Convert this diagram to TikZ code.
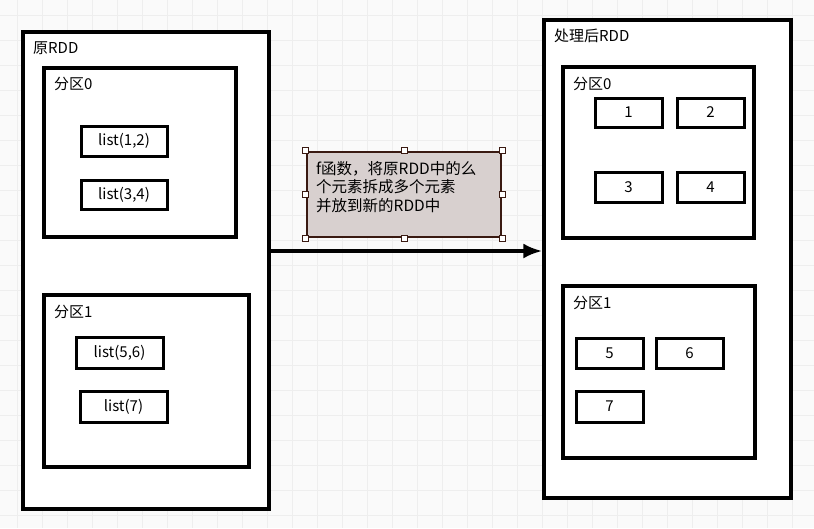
\documentclass[tikz,border=0pt]{standalone}
\usepackage{fontspec}
\setmainfont{Noto Sans CJK SC}
\usepackage{tikz}
\usetikzlibrary{arrows.meta}

\definecolor{bgpaper}{HTML}{FAFAFA}
\definecolor{gridgray}{HTML}{EEEEEE}
\definecolor{notefill}{HTML}{D8D0CF}
\definecolor{notedraw}{HTML}{3A1A12}

\tikzset{
  rddbox/.style={draw=black,line width=3.2pt,fill=white},
  partbox/.style={draw=black,line width=3.2pt,fill=white},
  itembox/.style={draw=black,line width=3pt,fill=white,inner sep=0pt,
    font=\fontsize{15}{17}\selectfont},
  boxlabel/.style={anchor=west,inner sep=0pt,font=\fontsize{15}{17}\selectfont},
  handle/.style={draw=notedraw,fill=white,line width=1pt,minimum size=6pt,inner sep=0pt},
}

\begin{document}
\begin{tikzpicture}[x=1pt,y=-1pt]
  \useasboundingbox (0,0) rectangle (814,528);
  \fill[bgpaper] (0,0) rectangle (814,528);
  % grid
  \foreach \gx in {0,...,32}
    \draw[gridgray,line width=1pt] ({17.7+25*\gx},0) -- ({17.7+25*\gx},528);
  \foreach \gy in {0,...,20}
    \draw[gridgray,line width=1pt] (0,{15.7+25*\gy}) -- (814,{15.7+25*\gy});

  % original RDD
  \node[rddbox,minimum width=246pt,minimum height=477pt] (rddA) at (146,270.5) {};
  \node[boxlabel] at (33,48) {原RDD};
  \node[partbox,minimum width=192pt,minimum height=169pt] (pA0) at (140,152.5) {};
  \node[boxlabel] at (54,84) {分区0};
  \node[itembox,minimum width=86pt,minimum height=30pt] (l12) at (124,141) {list(1,2)};
  \node[itembox,minimum width=86pt,minimum height=29pt] (l34) at (124,194.5) {list(3,4)};
  \node[partbox,minimum width=205pt,minimum height=172pt] (pA1) at (146.5,381) {};
  \node[boxlabel] at (54,312) {分区1};
  \node[itembox,minimum width=87pt,minimum height=31pt] (l56) at (119.5,352.5) {list(5,6)};
  \node[itembox,minimum width=87pt,minimum height=31pt] (l7) at (123.5,406.5) {list(7)};

  % processed RDD
  \node[rddbox,minimum width=247pt,minimum height=478pt] (rddB) at (667.5,259) {};
  \node[boxlabel] at (554,36) {处理后RDD};
  \node[partbox,minimum width=191pt,minimum height=171pt] (pB0) at (658.5,152.5) {};
  \node[boxlabel] at (573,84) {分区0};
  \node[itembox,minimum width=67pt,minimum height=29pt] (n1) at (628.5,112.5) {1};
  \node[itembox,minimum width=67pt,minimum height=29pt] (n2) at (710.5,112.5) {2};
  \node[itembox,minimum width=67pt,minimum height=30pt] (n3) at (628.5,187) {3};
  \node[itembox,minimum width=67pt,minimum height=30pt] (n4) at (710.5,187) {4};
  \node[partbox,minimum width=192pt,minimum height=172pt] (pB1) at (659,372) {};
  \node[boxlabel] at (573,303) {分区1};
  \node[itembox,minimum width=67pt,minimum height=30pt] (n5) at (609.5,353) {5};
  \node[itembox,minimum width=67pt,minimum height=30pt] (n6) at (689.5,353) {6};
  \node[itembox,minimum width=67pt,minimum height=31pt] (n7) at (609.5,406.5) {7};

  % transformation
  \coordinate (arrS) at (270,251);
  \draw[line width=4.5pt,-{Latex[length=19pt,width=15pt]}] (arrS) -- (arrS -| rddB.west);
  \node[draw=notedraw,fill=notefill,line width=2.4pt,minimum width=194pt,minimum height=85pt,
    inner sep=0pt] (fnote) at (404,194.5) {};
  \node[anchor=north west,inner sep=0pt,align=left,font=\fontsize{15.5}{18.5}\selectfont]
    at (316,161) {f函数，将原RDD中的么\\个元素拆成多个元素\\并放到新的RDD中};
  \foreach \hp in {north west,north,north east,east,south east,south,south west,west}
    \node[handle] at (fnote.\hp) {};
\end{tikzpicture}
\end{document}
